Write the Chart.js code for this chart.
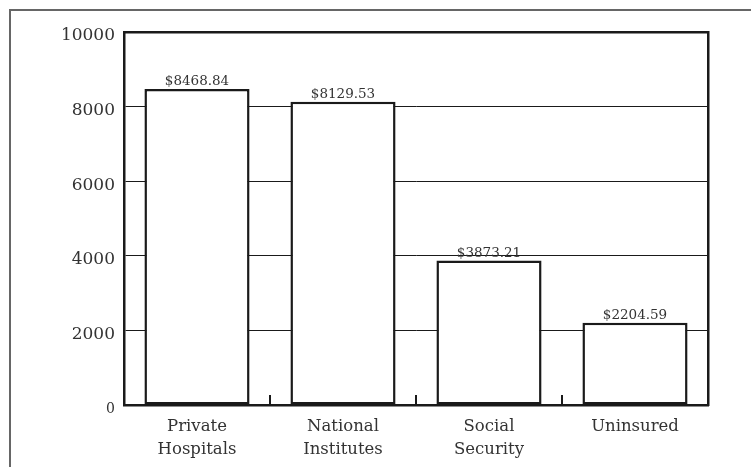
<!DOCTYPE html>
<html>
<head>
<meta charset="utf-8">
<script src="https://cdn.jsdelivr.net/npm/chart.js@4.4.1/dist/chart.umd.min.js"></script>
<style>
  html, body { margin: 0; padding: 0; background: #fff; }
  #wrap { position: relative; width: 751px; height: 467px; overflow: hidden; }
  #frame { position: absolute; left: 9px; top: 9px; width: 800px; height: 500px;
           border-left: 2px solid #666; border-top: 2px solid #666; box-sizing: border-box; }
  canvas { position: absolute; left: 0; top: 0; }
</style>
</head>
<body>
<div id="wrap">
  <div id="frame"></div>
  <canvas id="c" width="751" height="467"></canvas>
</div>
<script>
// Spending per category
const categories = [['Private', 'Hospitals'], ['National', 'Institutes'], ['Social', 'Security'], ['Uninsured']];
const amounts = [8468.84, 8129.53, 3873.21, 2204.59];
const yTicks = [0, 2000, 4000, 6000, 8000, 10000];

const FONT = "'DejaVu Serif', 'Liberation Serif', serif";
const INK = '#1a1a1a';
const LINE = 2.5;

// Dollar labels above each bar
const valueLabels = {
  id: 'valueLabels',
  afterDatasetsDraw(chart) {
    const ctx = chart.ctx;
    const meta = chart.getDatasetMeta(0);
    ctx.save();
    ctx.font = '13.5px ' + FONT;
    ctx.fillStyle = '#333';
    ctx.textAlign = 'center';
    ctx.textBaseline = 'alphabetic';
    meta.data.forEach((bar, i) => {
      ctx.fillText('$' + amounts[i].toFixed(2), bar.x, bar.y - 4);
    });
    ctx.restore();
  }
};

// Short inward tick marks between categories on the bottom axis
const innerTicks = {
  id: 'innerTicks',
  afterDatasetsDraw(chart) {
    const x = chart.scales.x;
    const ctx = chart.ctx;
    const bottom = chart.chartArea.bottom;
    ctx.save();
    ctx.strokeStyle = INK;
    ctx.lineWidth = 2;
    for (let i = 1; i < categories.length; i++) {
      const px = Math.round((x.getPixelForTick(i - 1) + x.getPixelForTick(i)) / 2);
      ctx.beginPath();
      ctx.moveTo(px, bottom);
      ctx.lineTo(px, bottom - 10);
      ctx.stroke();
    }
    ctx.restore();
  }
};

new Chart(document.getElementById('c'), {
  type: 'bar',
  data: {
    labels: categories,
    datasets: [{
      data: amounts,
      backgroundColor: '#ffffff',
      borderColor: INK,
      borderWidth: LINE,
      borderSkipped: false,
      barPercentage: 0.72,
      categoryPercentage: 1.0
    }]
  },
  options: {
    responsive: false,
    animation: false,
    devicePixelRatio: 1,
    layout: { padding: { left: 0, top: 32, right: 43, bottom: 0 } },
    plugins: { legend: { display: false }, tooltip: { enabled: false } },
    scales: {
      x: {
        position: 'bottom',
        grid: { display: false },
        border: { display: true, color: INK, width: LINE },
        ticks: {
          color: '#333',
          font: { family: FONT, size: 16.5, lineHeight: 1.4 },
          padding: 2,
          maxRotation: 0
        },
        afterFit(s) { s.height = 62; }
      },
      y: {
        min: 0,
        max: 10000,
        afterBuildTicks(s) { s.ticks = yTicks.map(v => ({ value: v })); },
        grid: {
          color: ctx => (ctx.tick && (ctx.tick.value === 0 || ctx.tick.value === 10000)) ? 'rgba(0,0,0,0)' : INK,
          lineWidth: 1,
          drawTicks: false
        },
        border: { display: true, color: INK, width: LINE },
        ticks: {
          color: '#333',
          padding: 9,
          font: ctx => ({ family: FONT, size: (ctx.tick && ctx.tick.value === 0) ? 14 : 17, lineHeight: '8px' }),
          // blank leading line nudges each number slightly below its gridline
          callback: v => ['', String(v)]
        },
        afterFit(s) { s.width = 124; }
      },
      x2: {
        position: 'top',
        grid: { display: false },
        border: { display: true, color: INK, width: LINE },
        ticks: { display: false },
        afterFit(s) { s.height = 0; }
      },
      y2: {
        position: 'right',
        grid: { display: false },
        border: { display: true, color: INK, width: LINE },
        ticks: { display: false },
        afterFit(s) { s.width = 0; }
      }
    }
  },
  plugins: [valueLabels, innerTicks]
});
</script>
</body>
</html>
